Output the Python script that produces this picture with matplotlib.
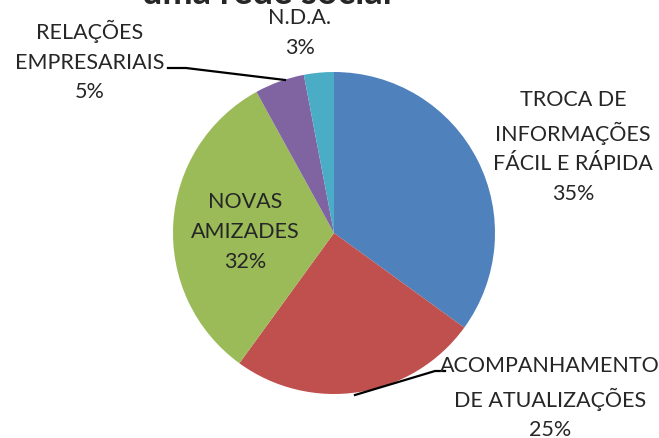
import matplotlib
matplotlib.use("Agg")
import matplotlib.pyplot as plt

# slice data (clockwise from 12 o'clock)
categories = ["TROCA DE\nINFORMAÇÕES\nFÁCIL E RÁPIDA", "ACOMPANHAMENTO\nDE ATUALIZAÇÕES",
              "NOVAS\nAMIZADES", "RELAÇÕES\nEMPRESARIAIS", "N.D.A."]
values = [35, 25, 32, 5, 3]
colors = ["#4F81BD", "#C0504D", "#9BBB59", "#8064A2", "#4BACC6"]
title = "uma rede social"

plt.rcParams["font.family"] = ["Lato", "DejaVu Sans"]

W, H = 659, 439
fig = plt.figure(figsize=(W / 100, H / 100), dpi=100)

cx, cy, r = 334, 234, 161
ax = fig.add_axes([(cx - r) / W, (H - cy - r) / H, 2 * r / W, 2 * r / H])
ax.pie(values, colors=colors, startangle=90, counterclock=False, radius=1,
       wedgeprops=dict(linewidth=0))
ax.set_xlim(-1, 1)
ax.set_ylim(-1, 1)
ax.set_aspect("equal")
ax.axis("off")


def px(x, y):
    return ((x - cx) / r, (cy - y) / r)


txt_color = "#262626"
fs = 15.5
# label centers (pixels)
label_pos = [(573, 147), (550, 398), (245, 232), (90, 61), (300, 33)]
for name, v, (x, y) in zip(categories, values, label_pos):
    ax.text(*px(x, y), f"{name}\n{v}%", ha="center", va="center", fontsize=fs,
            color=txt_color, linespacing=1.6, clip_on=False)

# leader lines
lx, ly = zip(px(445, 372), px(435, 372), px(355, 396))
ax.plot(lx, ly, color="black", lw=1.6, clip_on=False)
lx, ly = zip(px(168, 69), px(186, 69), px(285, 81))
ax.plot(lx, ly, color="black", lw=1.6, clip_on=False)

# title sits mostly above the canvas, only its lower part shows
fig.text(267 / W, (H - 4) / H, title, ha="center", va="baseline", fontsize=26,
         fontweight="bold", color=txt_color)

fig.savefig("out.png", dpi=100, facecolor="white")
